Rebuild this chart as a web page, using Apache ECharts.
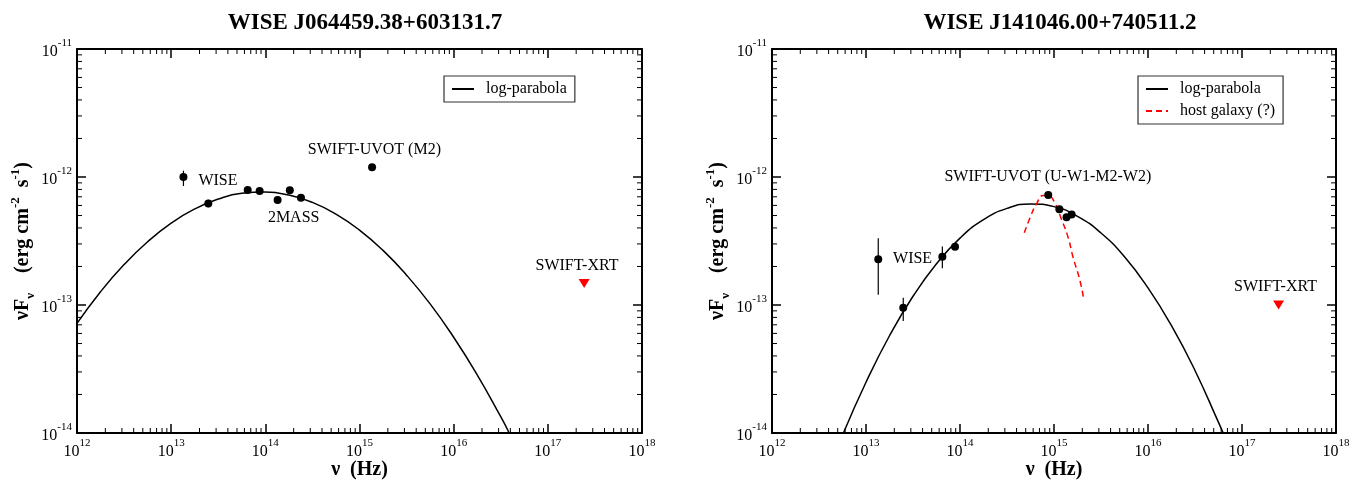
<!DOCTYPE html>
<html>
<head>
<meta charset="utf-8">
<script src="https://cdn.jsdelivr.net/npm/echarts@6/dist/echarts.min.js"></script>
<style>
  html, body { margin: 0; padding: 0; background: #fff; }
  #chart { width: 1364px; height: 481px; }
</style>
</head>
<body>
<div id="chart"></div>
<script>
// ---- axis ranges and tick labels ----
const freqDecades = [1e12, 1e13, 1e14, 1e15, 1e16, 1e17, 1e18];
const fluxDecades = [1e-14, 1e-13, 1e-12, 1e-11];

// ---- WISE J064459.38+603131.7 ----
const titleA = 'WISE J064459.38+603131.7';
const sedFreqA = [1.35e13, 2.48e13, 6.5e13, 8.7e13, 1.35e14, 1.82e14, 2.39e14, 1.36e15];
const sedFluxA = [1.0e-12, 6.22e-13, 7.91e-13, 7.78e-13, 6.6e-13, 7.87e-13, 6.89e-13, 1.19e-12];
const errFreqA = [1.35e13, 2.48e13];
const errLowA  = [8.51e-13, 5.8e-13];
const errHighA = [1.12e-12, 6.65e-13];
const xrtFreqA = [2.43e17];
const xrtFluxA = [1.47e-13];
// log-parabola model
const modelFreqA = [1e12, 1.778e12, 3.162e12, 5.623e12, 1e13, 1.778e13, 3.162e13, 5.623e13, 1e14,
  1.778e14, 3.162e14, 5.623e14, 1e15, 1.778e15, 3.162e15, 5.623e15, 1e16, 1.778e16, 3.162e16, 3.89e16];
const modelFluxA = [7.18e-14, 1.27e-13, 2.07e-13, 3.12e-13, 4.36e-13, 5.63e-13, 6.73e-13, 7.45e-13, 7.62e-13,
  7.22e-13, 6.33e-13, 5.13e-13, 3.85e-13, 2.67e-13, 1.71e-13, 1.02e-13, 5.6e-14, 2.85e-14, 1.34e-14, 1.0e-14];
const notesA = [
  { text: 'WISE', freq: 3.14e13, flux: 9.3e-13 },
  { text: '2MASS', freq: 2.0e14, flux: 4.78e-13 },
  { text: 'SWIFT-UVOT (M2)', freq: 1.44e15, flux: 1.62e-12 },
  { text: 'SWIFT-XRT', freq: 2.04e17, flux: 2.02e-13 }
];

// ---- WISE J141046.00+740511.2 ----
const titleB = 'WISE J141046.00+740511.2';
const sedFreqB = [1.35e13, 2.49e13, 6.49e13, 8.85e13, 8.69e14, 1.14e15, 1.36e15, 1.54e15];
const sedFluxB = [2.28e-13, 9.53e-14, 2.38e-13, 2.85e-13, 7.23e-13, 5.6e-13, 4.84e-13, 5.1e-13];
const errFreqB = [1.35e13, 2.49e13, 6.49e13];
const errLowB  = [1.2e-13, 7.5e-14, 1.94e-13];
const errHighB = [3.32e-13, 1.14e-13, 2.86e-13];
const xrtFreqB = [2.45e17];
const xrtFluxB = [1.0e-13];
const modelFreqB = [5.754e12, 1e13, 1.778e13, 3.162e13, 5.623e13, 1e14, 1.778e14, 3.162e14, 5.623e14,
  1e15, 1.778e15, 3.162e15, 5.623e15, 1e16, 1.778e16, 3.162e16, 5.623e16, 6.31e16];
const modelFluxB = [1.0e-14, 2.49e-14, 5.75e-14, 1.17e-13, 2.1e-13, 3.33e-13, 4.64e-13, 5.69e-13, 6.16e-13,
  5.87e-13, 4.93e-13, 3.65e-13, 2.38e-13, 1.36e-13, 6.9e-14, 3.08e-14, 1.21e-14, 1.0e-14];
const hostFreqB = [4.83e14, 5.62e14, 6.55e14, 7.67e14, 8.91e14, 1.0e15, 1.2e15, 1.41e15, 1.6e15, 1.86e15, 2.05e15];
const hostFluxB = [3.67e-13, 4.9e-13, 6.22e-13, 7.16e-13, 7.08e-13, 6.46e-13, 4.68e-13, 3.39e-13, 2.34e-13, 1.62e-13, 1.16e-13];
const notesB = [
  { text: 'WISE', freq: 3.13e13, flux: 2.29e-13 },
  { text: 'SWIFT-UVOT (U-W1-M2-W2)', freq: 8.6e14, flux: 1.0e-12 },
  { text: 'SWIFT-XRT', freq: 2.27e17, flux: 1.38e-13 }
];

// ---- minor tick positions (2..9 within each decade) ----
const minorFreq = [];
for (let e = 12; e < 18; e++) for (let m = 2; m <= 9; m++) minorFreq.push(m * Math.pow(10, e));
const minorFlux = [];
for (let e = -14; e < -11; e++) for (let m = 2; m <= 9; m++) minorFlux.push(m * Math.pow(10, e));

const SERIF = 'Liberation Serif';
const zip = (a, b) => a.map((v, i) => [v, b[i]]);

function powLabel(v) {
  const e = Math.round(Math.log10(v));
  return '{b|10}{s|' + e + '}';
}
const powRich = {
  b: { fontFamily: SERIF, fontSize: 16, color: '#000', lineHeight: 28, verticalAlign: 'middle' },
  s: { fontFamily: SERIF, fontSize: 11, color: '#000', lineHeight: 11, verticalAlign: 'top' }
};
const titleRich = {
  m: { fontFamily: SERIF, fontWeight: 'bold', fontSize: 20, color: '#000', lineHeight: 28, verticalAlign: 'middle' },
  sub: { fontFamily: SERIF, fontWeight: 'bold', fontSize: 13, color: '#000', lineHeight: 13, verticalAlign: 'bottom' },
  sup: { fontFamily: SERIF, fontWeight: 'bold', fontSize: 13, color: '#000', lineHeight: 13, verticalAlign: 'top' }
};

const frameLine = { show: true, onZero: false, lineStyle: { color: '#000', width: 2 } };

function xAxes(g) {
  const base = { type: 'log', logBase: 10, min: 1e12, max: 1e18, interval: 1, gridIndex: g,
    splitLine: { show: false }, axisLine: frameLine };
  return [
    Object.assign({}, base, {
      position: 'bottom',
      axisTick: { inside: true, length: 9, lineStyle: { color: '#000', width: 1.5 } },
      axisLabel: { formatter: powLabel, rich: powRich, margin: 5 },
      name: '{m|ν  (Hz)}', nameLocation: 'middle', nameGap: 23, nameMoveOverlap: false,
      nameTextStyle: { rich: titleRich }
    }),
    Object.assign({}, base, {
      position: 'top',
      axisTick: { inside: true, length: 9, lineStyle: { color: '#000', width: 1.5 } },
      axisLabel: { show: false }
    })
  ];
}
function yAxes(g) {
  const base = { type: 'log', logBase: 10, min: 1e-14, max: 1e-11, interval: 1, gridIndex: g,
    splitLine: { show: false }, axisLine: frameLine };
  return [
    Object.assign({}, base, {
      position: 'left',
      axisTick: { inside: true, length: 9, lineStyle: { color: '#000', width: 1.5 } },
      axisLabel: { formatter: powLabel, rich: powRich, margin: 5, padding: [6, 0, 0, 0] },
      name: '{m|νF}{sub|ν}{m|    (erg cm}{sup|-2}{m|  s}{sup|-1}{m|)}',
      nameLocation: 'middle', nameRotate: 90, nameGap: 40, nameMoveOverlap: false,
      nameTextStyle: { rich: titleRich }
    }),
    Object.assign({}, base, {
      position: 'right',
      axisTick: { inside: true, length: 9, lineStyle: { color: '#000', width: 1.5 } },
      axisLabel: { show: false }
    })
  ];
}

// short inward ticks on all four sides between decades
function minorTickSeries(xi, yi) {
  return [
    {
      type: 'custom', xAxisIndex: xi, yAxisIndex: yi, silent: true, clip: false,
      data: minorFreq.map(v => [v, 1e-14]),
      renderItem: (params, api) => {
        const cs = params.coordSys;
        const x = api.coord([api.value(0), 1e-14])[0];
        const yb = cs.y + cs.height, yt = cs.y;
        return { type: 'group', children: [
          { type: 'line', shape: { x1: x, y1: yb, x2: x, y2: yb - 5 }, style: { stroke: '#000', lineWidth: 1 } },
          { type: 'line', shape: { x1: x, y1: yt, x2: x, y2: yt + 5 }, style: { stroke: '#000', lineWidth: 1 } }
        ]};
      }
    },
    {
      type: 'custom', xAxisIndex: xi, yAxisIndex: yi, silent: true, clip: false,
      data: minorFlux.map(v => [1e12, v]),
      renderItem: (params, api) => {
        const cs = params.coordSys;
        const y = api.coord([1e12, api.value(1)])[1];
        const xl = cs.x, xr = cs.x + cs.width;
        return { type: 'group', children: [
          { type: 'line', shape: { x1: xl, y1: y, x2: xl + 5, y2: y }, style: { stroke: '#000', lineWidth: 1 } },
          { type: 'line', shape: { x1: xr, y1: y, x2: xr - 5, y2: y }, style: { stroke: '#000', lineWidth: 1 } }
        ]};
      }
    }
  ];
}

function errorBarSeries(xi, yi, f, lo, hi) {
  return {
    type: 'custom', xAxisIndex: xi, yAxisIndex: yi, silent: true,
    data: f.map((v, i) => [v, lo[i], hi[i]]),
    encode: { x: 0, y: [1, 2] },
    renderItem: (params, api) => {
      const p1 = api.coord([api.value(0), api.value(1)]);
      const p2 = api.coord([api.value(0), api.value(2)]);
      return { type: 'line', shape: { x1: p1[0], y1: p1[1], x2: p2[0], y2: p2[1] },
        style: { stroke: '#000', lineWidth: 1.2 } };
    }
  };
}

function noteSeries(xi, yi, notes) {
  return {
    type: 'scatter', xAxisIndex: xi, yAxisIndex: yi, silent: true, symbolSize: 0,
    data: notes.map(n => ({ value: [n.freq, n.flux], name: n.text })),
    itemStyle: { opacity: 1 },
    label: { show: true, position: 'inside', formatter: p => p.name,
      fontFamily: SERIF, fontSize: 16, color: '#000' }
  };
}

function panelSeries(xi, yi, d) {
  const list = [
    {
      name: 'log-parabola', type: 'line', xAxisIndex: xi, yAxisIndex: yi, smooth: true,
      symbol: 'none', data: zip(d.modelFreq, d.modelFlux),
      lineStyle: { color: '#000', width: 1.5 }, itemStyle: { color: '#000' }, z: 3
    }
  ];
  if (d.hostFreq) {
    list.push({
      name: 'host galaxy (?)', type: 'line', xAxisIndex: xi, yAxisIndex: yi, smooth: true,
      symbol: 'none', data: zip(d.hostFreq, d.hostFlux),
      lineStyle: { color: '#ff0000', width: 1.5, type: [6, 4] }, itemStyle: { color: '#ff0000' }, z: 3
    });
  }
  list.push(errorBarSeries(xi, yi, d.errFreq, d.errLow, d.errHigh));
  list.push({
    type: 'scatter', xAxisIndex: xi, yAxisIndex: yi, symbol: 'circle', symbolSize: 8,
    data: zip(d.sedFreq, d.sedFlux), itemStyle: { color: '#000', opacity: 1 }, z: 4
  });
  list.push({
    type: 'scatter', xAxisIndex: xi, yAxisIndex: yi, symbol: 'triangle', symbolRotate: 180,
    symbolSize: [11, 9], data: zip(d.xrtFreq, d.xrtFlux), itemStyle: { color: '#ff0000', opacity: 1 }, z: 4
  });
  list.push(noteSeries(xi, yi, d.notes));
  return list.concat(minorTickSeries(xi, yi));
}

const legendBase = {
  orient: 'vertical', padding: [5, 8, 5, 7], itemWidth: 22, itemHeight: 14, itemGap: 6,
  borderColor: '#333', borderWidth: 1.2, borderRadius: 0,
  itemStyle: { opacity: 0 },
  textStyle: { fontFamily: SERIF, fontSize: 16, color: '#000', padding: [0, 0, 0, 7] }
};

const chart = echarts.init(document.getElementById('chart'), null, { renderer: 'canvas' });
chart.setOption({
  backgroundColor: '#fff',
  animation: false,
  title: [
    { text: titleA, left: 360, top: 7, textAlign: 'center',
      textStyle: { fontFamily: SERIF, fontWeight: 'bold', fontSize: 23, color: '#000' } },
    { text: titleB, left: 1055, top: 7, textAlign: 'center',
      textStyle: { fontFamily: SERIF, fontWeight: 'bold', fontSize: 23, color: '#000' } }
  ],
  legend: [
    Object.assign({}, legendBase, { data: ['log-parabola'], left: 444, top: 76 }),
    Object.assign({}, legendBase, { data: ['log-parabola', 'host galaxy (?)'], left: 1138, top: 76 })
  ],
  grid: [
    { left: 77, top: 49, width: 565, height: 384, show: false, outerBoundsMode: 'none', containLabel: false },
    { left: 772, top: 49, width: 564, height: 384, show: false, outerBoundsMode: 'none', containLabel: false }
  ],
  xAxis: xAxes(0).concat(xAxes(1)),
  yAxis: yAxes(0).concat(yAxes(1)),
  series: panelSeries(0, 0, {
    modelFreq: modelFreqA, modelFlux: modelFluxA,
    errFreq: errFreqA, errLow: errLowA, errHigh: errHighA,
    sedFreq: sedFreqA, sedFlux: sedFluxA, xrtFreq: xrtFreqA, xrtFlux: xrtFluxA, notes: notesA
  }).concat(panelSeries(2, 2, {
    modelFreq: modelFreqB, modelFlux: modelFluxB, hostFreq: hostFreqB, hostFlux: hostFluxB,
    errFreq: errFreqB, errLow: errLowB, errHigh: errHighB,
    sedFreq: sedFreqB, sedFlux: sedFluxB, xrtFreq: xrtFreqB, xrtFlux: xrtFluxB, notes: notesB
  }))
});
</script>
</body>
</html>
